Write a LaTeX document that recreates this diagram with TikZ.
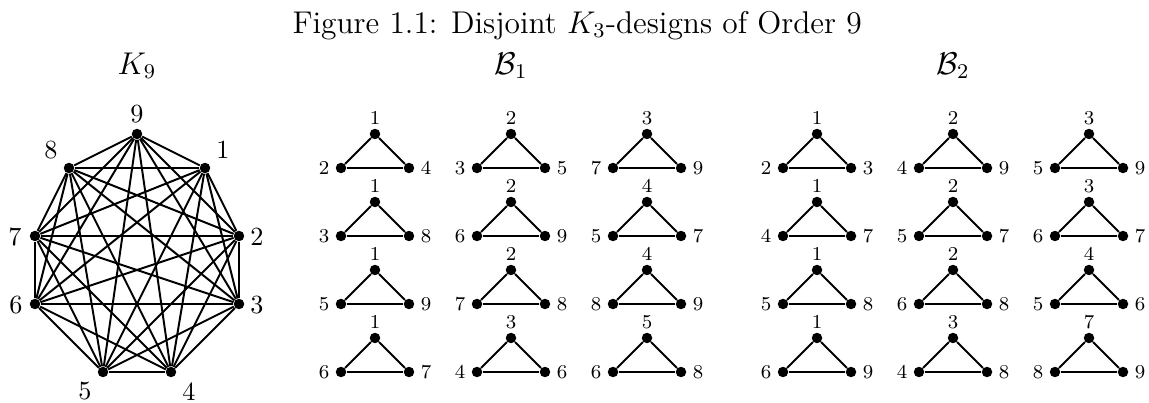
\documentclass[tikz,border=0pt]{standalone}
\usetikzlibrary{calc}
\begin{document}
\tikzset{
  dot/.style={circle,fill=black,draw=none,inner sep=0pt,minimum size=4pt},
  edge/.style={line width=0.75pt},
  biglab/.style={font=\fontsize{10}{12}\selectfont,inner sep=0pt},
  smalllab/.style={font=\fontsize{7.5}{9}\selectfont,inner sep=0pt},
  titletext/.style={font=\fontsize{12}{14}\selectfont,inner sep=0pt,anchor=base}
}
\begin{tikzpicture}[x=0.3817pt,y=-0.3817pt]
\useasboundingbox (0,0) rectangle (1149,402);
% caption and titles
\node[titletext,anchor=base west] (cap) at (292,33) {Figure 1.1: Disjoint $K_3$-designs of Order 9};
\node[titletext] (tK) at (137,74) {$K_9$};
\node[titletext] (tB1) at (511,74) {$\mathcal{B}_1$};
\node[titletext] (tB2) at (953,74) {$\mathcal{B}_2$};
% K9 vertices
\foreach \n/\x/\y/\lx/\ly in {9/137/134/0/-19.5, 8/69/168/-18/-18, 1/205/168/18/-18,
  7/35/236/-20/1, 2/239/236/18/1, 6/35/304/-19/1.5, 3/239/304/18/1.5,
  5/103/372/-18/19.5, 4/171/372/18/19.5}{
  \node[dot] (k\n) at (\x,\y) {};
  \node[biglab] (kl\n) at ($(k\n)+(\lx,\ly)$) {\n};
}
% K9 edges
\foreach \a in {1,...,8}{
  \pgfmathtruncatemacro\s{\a+1}
  \foreach \b in {\s,...,9}{
    \draw[edge] (k\a) -- (k\b);
  }
}
% triangles
\foreach \g/\cx/\ty/\t/\l/\r in {
  p11/375/134/1/2/4, p12/511/134/2/3/5, p13/647/134/3/7/9,
  p21/375/202/1/3/8, p22/511/202/2/6/9, p23/647/202/4/5/7,
  p31/375/270/1/5/9, p32/511/270/2/7/8, p33/647/270/4/8/9,
  p41/375/338/1/6/7, p42/511/338/3/4/6, p43/647/338/5/6/8,
  q11/817/134/1/2/3, q12/953/134/2/4/9, q13/1089/134/3/5/9,
  q21/817/202/1/4/7, q22/953/202/2/5/7, q23/1089/202/3/6/7,
  q31/817/270/1/5/8, q32/953/270/2/6/8, q33/1089/270/4/5/6,
  q41/817/338/1/6/9, q42/953/338/3/4/8, q43/1089/338/7/8/9}{
  \node[dot] (\g-t) at (\cx,\ty) {};
  \node[dot] (\g-l) at ($(\g-t)+(-34,34)$) {};
  \node[dot] (\g-r) at ($(\g-t)+(34,34)$) {};
  \draw[edge] (\g-t) -- (\g-l);
  \draw[edge] (\g-l) -- (\g-r);
  \draw[edge] (\g-r) -- (\g-t);
  \node[smalllab] (\g-tl) at ($(\g-t)+(0,-16)$) {\t};
  \node[smalllab] (\g-ll) at ($(\g-l)+(-17,0)$) {\l};
  \node[smalllab] (\g-rl) at ($(\g-r)+(17,0)$) {\r};
}
\end{tikzpicture}
\end{document}
